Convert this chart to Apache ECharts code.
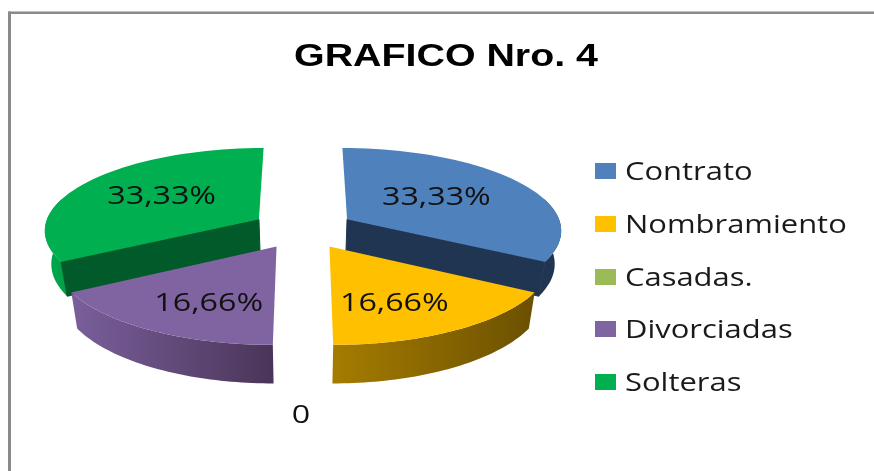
<!DOCTYPE html>
<html>
<head>
<meta charset="utf-8">
<style>
  html, body { margin: 0; padding: 0; background: #fff; }
  #chart { width: 874px; height: 471px; }
</style>
<script src="https://cdn.jsdelivr.net/npm/echarts@6/dist/echarts.min.js"></script>
</head>
<body>
<div id="chart"></div>
<script>
var chartTitle = 'GRAFICO Nro. 4';
var categories = ['Contrato', 'Nombramiento', 'Casadas.', 'Divorciadas', 'Solteras'];
var values = [33.33, 16.66, 0, 16.66, 33.33];
var valueLabels = ['33,33%', '16,66%', '0', '16,66%', '33,33%'];
var topColors = ['#4f81bd', '#ffc000', '#9bbb59', '#8064a2', '#00b050'];
var sideColors = ['#1f3552', '#6b5000', '#5f7535', '#4f3a66', '#005a29'];
var arcColors = [['#1f3552', '#1f3552'], ['#a67c00', '#6b5000'], ['#6f8a3c', '#5f7535'], ['#7a5f9c', '#4a3558'], ['#00a84b', '#00a048']];

// pie projection, fitted to the picture
var cx = 303, cy = 229, Rx = 215, Ry = 82, persp = 0.12, depth = 33, explode = 0.24;
var labelFont = '"Open Sans", sans-serif';
// the source image is stretched sideways, so the text is too
var labelStretch = 1.24, legendStretch = 1.19, titleStretch = 1.23;
var labelShift = [[-2, -2], [-18, 2], [-2, 1], [15, 2], [-6, -3]];
var legendRowY = [171, 224, 277, 329, 382];

var total = values.reduce(function (a, b) { return a + b; }, 0);
var slices = [];
var acc = 0;
values.forEach(function (v) {
  var a0 = acc / total * Math.PI * 2;
  acc += v;
  slices.push({ a0: a0, a1: acc / total * Math.PI * 2 });
});

function project(px, d, bottom) {
  var s = 1 / (1 - persp * d);
  return [
    cx + Rx * px * s * (bottom ? 0.975 : 1),
    cy + Ry * d * s + (bottom ? depth * s : 0)
  ];
}

function slicePoint(sl, a, r, bottom) {
  var mid = (sl.a0 + sl.a1) / 2;
  return project(
    explode * Math.sin(mid) + r * Math.sin(a),
    -explode * Math.cos(mid) - r * Math.cos(a),
    bottom
  );
}

// only the front part of the rim shows a wall
function arcPoints(sl, bottom, frontOnly) {
  var pts = [];
  var n = 48;
  for (var k = 0; k <= n; k++) {
    var a = sl.a0 + (sl.a1 - sl.a0) * k / n;
    if (!frontOnly || Math.cos(a) < 0.3) pts.push(slicePoint(sl, a, 1, bottom));
  }
  return pts;
}

function radialWall(sl, a, color) {
  return {
    type: 'polygon',
    shape: { points: [slicePoint(sl, a, 0, false), slicePoint(sl, a, 1, false), slicePoint(sl, a, 1, true), slicePoint(sl, a, 0, true)] },
    style: { fill: color, stroke: color, lineWidth: 1 }
  };
}

function valueText(i, pos) {
  return {
    type: 'text',
    x: pos[0] + labelShift[i][0],
    y: pos[1] + labelShift[i][1],
    scaleX: labelStretch,
    style: { x: 0, y: 0, fontSize: 26, fontFamily: labelFont, fill: '#111', align: 'center', verticalAlign: 'middle', text: valueLabels[i] }
  };
}

function drawSlice(i) {
  var sl = slices[i];
  var children = [];
  var mid = (sl.a0 + sl.a1) / 2;

  if (values[i] === 0) {
    return valueText(i, slicePoint(sl, mid, 1.54, false));
  }

  var wallFill = new echarts.graphic.LinearGradient(0, 0, 1, 0, [
    { offset: 0, color: arcColors[i][0] },
    { offset: 1, color: arcColors[i][1] }
  ]);
  children.push({
    type: 'polygon',
    shape: { points: arcPoints(sl, false, true).concat(arcPoints(sl, true, true).reverse()) },
    style: { fill: wallFill }
  });
  if (Math.sin(sl.a0) < -0.01) children.push(radialWall(sl, sl.a0, sideColors[i]));
  if (Math.sin(sl.a1) > 0.01) children.push(radialWall(sl, sl.a1, sideColors[i]));

  children.push({
    type: 'polygon',
    shape: { points: [slicePoint(sl, 0, 0, false)].concat(arcPoints(sl, false, false)) },
    style: { fill: topColors[i] }
  });

  var small = values[i] < 25;
  children.push(valueText(i, slicePoint(sl, mid, small ? 0.68 : 0.52, false)));
  return { type: 'group', children: children };
}

// back slices first, the front ones cover their walls
var allSeries = categories.map(function (name, i) {
  return {
    name: name,
    type: 'custom',
    coordinateSystem: 'none',
    silent: true,
    z: i === 0 || i === 4 ? 2 : 3,
    itemStyle: { color: topColors[i] },
    data: [[values[i]]],
    renderItem: function () { return drawSlice(i); }
  };
});

var graphics = [
  { type: 'rect', shape: { x: 8, y: 11.5, width: 866, height: 2.5 }, style: { fill: '#8a8a8a' }, silent: true },
  { type: 'rect', shape: { x: 8, y: 11.5, width: 3, height: 460 }, style: { fill: '#8a8a8a' }, silent: true },
  {
    type: 'text', x: 446, y: 57, scaleX: titleStretch, silent: true,
    style: { x: 0, y: 0, text: chartTitle, align: 'center', verticalAlign: 'middle', fontFamily: '"Liberation Sans", Arial, sans-serif', fontWeight: 'bold', fontSize: 32, fill: '#000' }
  }
];
categories.forEach(function (name, i) {
  graphics.push({
    type: 'rect', silent: true,
    shape: { x: 595, y: legendRowY[i] - 8, width: 21, height: 16 },
    style: { fill: topColors[i] }
  });
  graphics.push({
    type: 'text', x: 625, y: legendRowY[i] + 2, scaleX: legendStretch, silent: true,
    style: { x: 0, y: 0, text: name, align: 'left', verticalAlign: 'middle', fontFamily: labelFont, fontSize: 26, fill: '#1a1a1a' }
  });
});

var myChart = echarts.init(document.getElementById('chart'), null, { renderer: 'canvas' });
myChart.setOption({
  animation: false,
  backgroundColor: '#ffffff',
  color: topColors,
  graphic: graphics,
  series: allSeries
});
</script>
</body>
</html>
